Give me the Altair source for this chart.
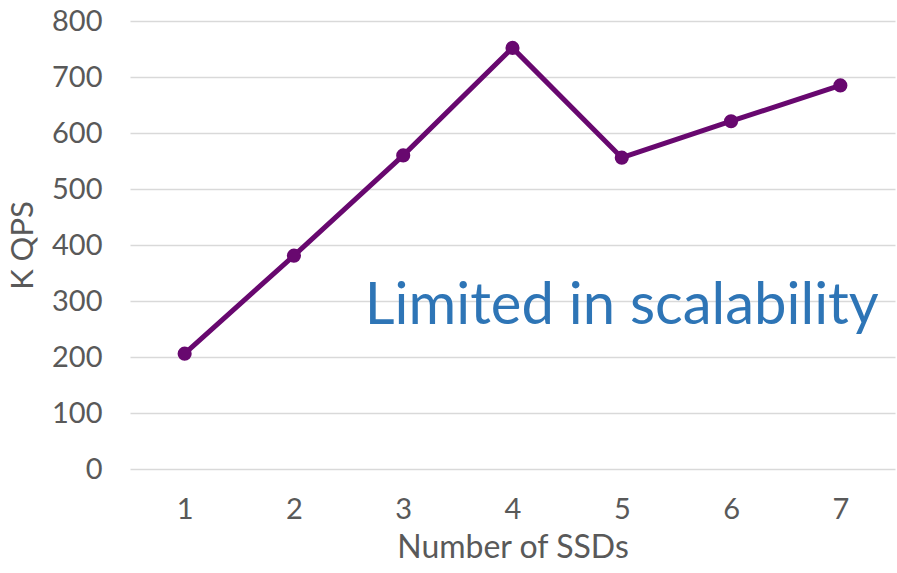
import altair as alt
import pandas as pd

ssds = ["1", "2", "3", "4", "5", "6", "7"]
kqps = [206, 381, 560, 752, 556, 621, 685]

note_text = ["Limited in scalability"]
note_x = ["5"]
note_y = [290]

df = pd.DataFrame({"ssds": ssds, "kqps": kqps})
note = pd.DataFrame({"text": note_text, "x": note_x, "y": note_y})

FONT = "Lato"
GRAY = "#595959"
PURPLE = "#68086F"

x_enc = alt.X(
    "ssds:N",
    sort=ssds,
    scale=alt.Scale(paddingInner=1, paddingOuter=0.5),
    axis=alt.Axis(
        title="Number of SSDs",
        labelAngle=0,
        labelFont=FONT,
        labelFontSize=29,
        labelColor=GRAY,
        labelPadding=26,
        titleFont=FONT,
        titleFontSize=32,
        titleFontWeight="normal",
        titleColor=GRAY,
        titlePadding=8,
        domain=False,
        ticks=False,
        grid=False,
    ),
)
y_enc = alt.Y(
    "kqps:Q",
    scale=alt.Scale(domain=[0, 800], nice=False),
    axis=alt.Axis(
        title="K QPS",
        values=[0, 100, 200, 300, 400, 500, 600, 700, 800],
        labelFont=FONT,
        labelFontSize=29,
        labelColor=GRAY,
        labelPadding=28,
        titleFont=FONT,
        titleFontSize=31,
        titleFontWeight="normal",
        titleColor=GRAY,
        titlePadding=12,
        domain=False,
        ticks=False,
        grid=True,
        gridColor="#d9d9d9",
        gridWidth=1.6,
    ),
)

base = alt.Chart(df)
line = base.mark_line(color=PURPLE, strokeWidth=5).encode(x=x_enc, y=y_enc)
points = base.mark_circle(color=PURPLE, size=200, opacity=1).encode(x=x_enc, y=y_enc)

label = alt.Chart(note).mark_text(
    font=FONT, fontSize=58, color="#2E75B6", align="center", baseline="middle"
).encode(
    x=alt.X("x:N", sort=ssds),
    y=alt.Y("y:Q"),
    text="text:N",
)

chart = (
    alt.layer(line, points, label)
    .properties(
        width=765,
        height=448,
        autosize=alt.AutoSizeParams(type="none"),
        padding={"left": 130, "top": 21, "right": 2, "bottom": 104},
        background="white",
    )
    .configure_view(stroke=None)
)

chart.save("out.html", embed_options={"renderer": "svg", "actions": False})
